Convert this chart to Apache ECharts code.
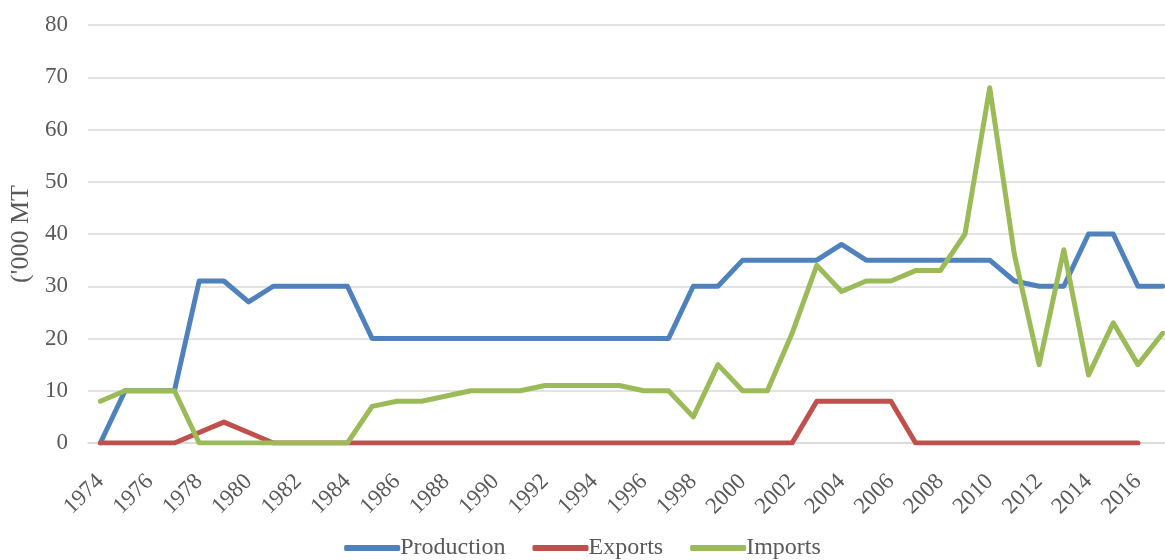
<!DOCTYPE html>
<html>
<head>
<meta charset="utf-8">
<script src="https://cdn.jsdelivr.net/npm/echarts@6/dist/echarts.min.js"></script>
<style>html,body{margin:0;padding:0;background:#fff}#c{width:1165px;height:560px}</style>
</head>
<body>
<div id="c"></div>
<script>
const years = [];
for (let y = 1974; y <= 2017; y++) years.push(String(y));
const production = [0,10,10,10,31,31,27,30,30,30,30,20,20,20,20,20,20,20,20,20,20,20,20,20,30,30,35,35,35,35,38,35,35,35,35,35,35,31,30,30,40,40,30,30];
const exportsData = [0,0,0,0,2,4,2,0,0,0,0,0,0,0,0,0,0,0,0,0,0,0,0,0,0,0,0,0,0,8,8,8,8,0,0,0,0,0,0,0,0,0,0,null];
const imports = [8,10,10,10,0,0,0,0,0,0,0,7,8,8,9,10,10,10,11,11,11,11,10,10,5,15,10,10,21,34,29,31,31,33,33,40,68,36,15,37,13,23,15,21];
const yTicks = {min: 0, max: 80, interval: 10};
const font = 'Liberation Serif, Times New Roman, serif';

const chart = echarts.init(document.getElementById('c'));
const mk = (name, data, color) => ({
  name, type: 'line', data, showSymbol: false, symbol: 'none',
  lineStyle: {width: 5, color, cap: 'round', join: 'round'},
  itemStyle: {color}, animation: false
});
chart.setOption({
  animation: false,
  textStyle: {fontFamily: font},
  grid: {left: 88, right: -10, top: 25, bottom: 117, containLabel: false, outerBoundsMode: 'none'},
  legend: {
    bottom: -5, left: 'center', itemWidth: 56, itemHeight: 6, itemGap: 27,
    icon: 'roundRect',
    textStyle: {fontFamily: font, fontSize: 24, color: '#595959', padding: [0,0,0,-5]},
    data: ['Production','Exports','Imports']
  },
  xAxis: {
    type: 'category', data: years, boundaryGap: true,
    axisLine: {show: true, lineStyle: {color: '#d9d9d9', width: 1.5}},
    axisTick: {show: false},
    axisLabel: {interval: 1, rotate: 45, fontFamily: font, fontSize: 23, color: '#595959', margin: 35}
  },
  yAxis: {
    type: 'value', min: yTicks.min, max: yTicks.max, interval: yTicks.interval,
    name: "('000 MT", nameLocation: 'middle', nameGap: 48, nameRotate: 90,
    nameTextStyle: {fontFamily: font, fontSize: 26, color: '#595959'},
    axisLine: {show: false}, axisTick: {show: false},
    axisLabel: {fontFamily: font, fontSize: 23, color: '#595959', margin: 20},
    splitLine: {lineStyle: {color: '#d9d9d9', width: 1.5}}
  },
  series: [
    mk('Production', production, '#4F81BD'),
    mk('Exports', exportsData, '#C0504D'),
    mk('Imports', imports, '#9BBB59')
  ]
});
</script>
</body>
</html>
